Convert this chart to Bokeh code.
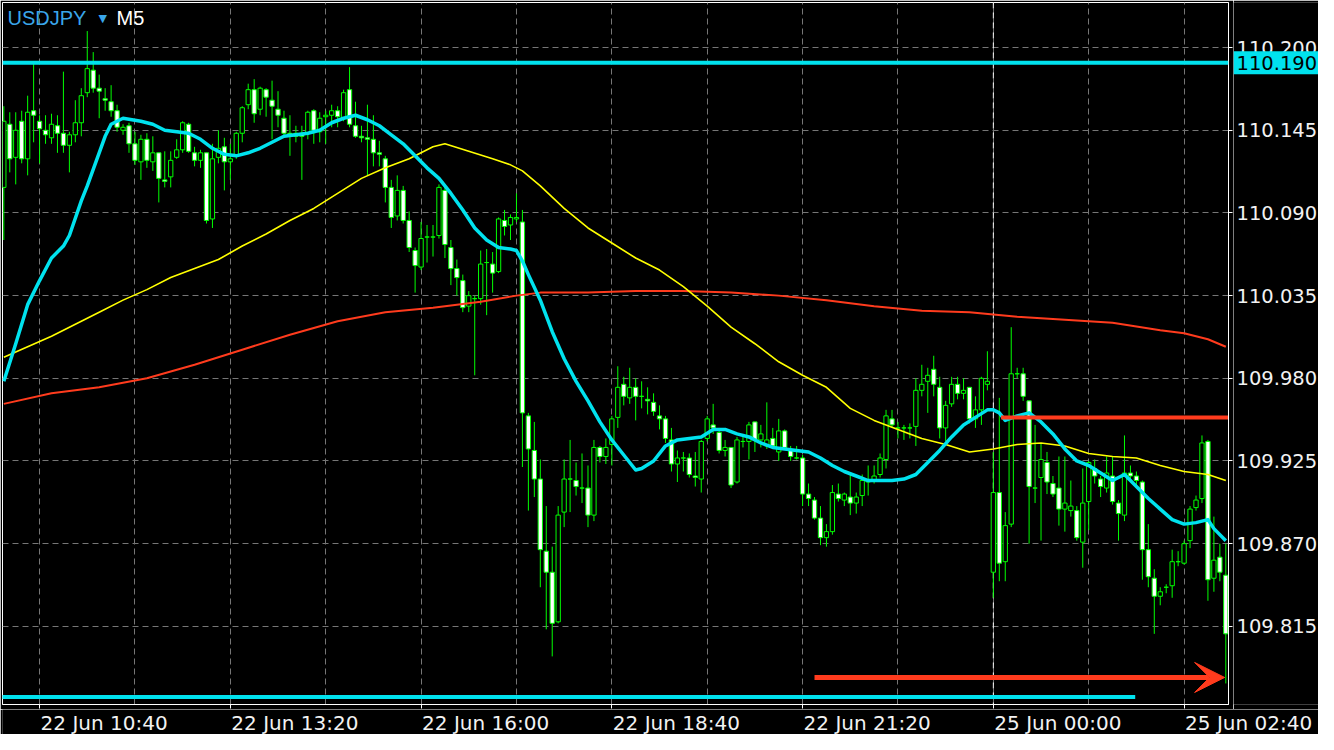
import numpy as np
from bokeh.plotting import figure
from bokeh.layouts import column, row
from bokeh.models import (Range1d, FixedTicker, Span, Label, Arrow, VeeHead, ColumnDataSource)
from bokeh.core.properties import value
from bokeh.embed import file_html
from bokeh.resources import INLINE

# ---------------- data ----------------
symbol = "USDJPY"
timeframe = "M5"
first_bar = -6          # bar index of the first visible candle (22 Jun 10:40 bar = 0)

opens = [110.107, 110.149, 110.127, 110.151, 110.126, 110.158,
         110.151, 110.145, 110.140, 110.148, 110.143, 110.135, 110.142, 110.150, 110.170, 110.185,
         110.173, 110.166, 110.164, 110.158, 110.145, 110.148, 110.136, 110.124, 110.139, 110.124,
         110.130, 110.112, 110.114, 110.127, 110.132, 110.149, 110.130, 110.125, 110.130, 110.086,
         110.127, 110.134, 110.124, 110.128, 110.143, 110.162, 110.172, 110.159, 110.172, 110.165,
         110.159, 110.153, 110.143, 110.143, 110.143, 110.143, 110.158, 110.144, 110.154, 110.155,
         110.158, 110.153, 110.172, 110.148, 110.141, 110.140, 110.139, 110.130, 110.126, 110.107,
         110.088, 110.105, 110.085, 110.065, 110.054, 110.074, 110.074, 110.075, 110.105, 110.067,
         110.053, 110.045, 110.028, 110.033, 110.033, 110.057, 110.056, 110.051, 110.085, 110.082,
         110.086, 110.084, 109.955, 109.932, 109.913, 109.865, 109.851, 109.818, 109.891, 109.913,
         109.912, 109.907, 109.907, 109.889, 109.934, 109.928, 109.936, 109.954, 109.976, 109.967,
         109.974, 109.968, 109.966, 109.964, 109.955, 109.953, 109.939, 109.923, 109.927, 109.927,
         109.915, 109.913, 109.940, 109.949, 109.944, 109.932, 109.934, 109.911, 109.938, 109.938,
         109.951, 109.939, 109.935, 109.940, 109.931, 109.945, 109.932, 109.927, 109.927, 109.903,
         109.899, 109.887, 109.874, 109.878, 109.903, 109.899, 109.901, 109.897, 109.902, 109.911,
         109.912, 109.916, 109.926, 109.953, 109.947, 109.947, 109.947, 109.948, 109.972, 109.978,
         109.986, 109.974, 109.947, 109.963, 109.976, 109.970, 109.974, 109.953, 109.959, 109.976,
         109.851, 109.904, 109.858, 109.883, 109.983, 109.983, 109.965, 109.907, 109.914, 109.924,
         109.910, 109.907, 109.893, 109.892, 109.892, 109.871, 109.898, 109.920, 109.913, 109.907,
         109.915, 109.897, 109.889, 109.917, 109.915, 109.911, 109.866, 109.847, 109.835, 109.841,
         109.842, 109.858, 109.857, 109.872, 109.894, 109.900, 109.938, 109.847, 109.861, 109.849]

highs = [110.161, 110.157, 110.157, 110.158, 110.168, 110.190,
         110.155, 110.155, 110.156, 110.155, 110.184, 110.144, 110.165, 110.173, 110.211, 110.197,
         110.182, 110.173, 110.175, 110.162, 110.149, 110.150, 110.144, 110.142, 110.143, 110.141,
         110.130, 110.131, 110.131, 110.139, 110.151, 110.150, 110.134, 110.132, 110.130, 110.136,
         110.145, 110.140, 110.136, 110.144, 110.161, 110.176, 110.179, 110.174, 110.173, 110.178,
         110.171, 110.158, 110.155, 110.148, 110.148, 110.158, 110.159, 110.157, 110.158, 110.162,
         110.161, 110.172, 110.187, 110.164, 110.148, 110.162, 110.155, 110.138, 110.128, 110.112,
         110.115, 110.108, 110.091, 110.067, 110.084, 110.082, 110.082, 110.109, 110.109, 110.072,
         110.059, 110.049, 110.038, 110.035, 110.065, 110.066, 110.064, 110.087, 110.092, 110.089,
         110.103, 110.092, 109.957, 109.951, 109.926, 109.895, 109.868, 109.895, 109.926, 109.939,
         109.924, 109.930, 109.922, 109.939, 109.935, 109.940, 109.955, 109.988, 109.981, 109.987,
         109.980, 109.978, 109.974, 109.970, 109.962, 109.955, 109.947, 109.932, 109.931, 109.930,
         109.931, 109.939, 109.955, 109.963, 109.947, 109.939, 109.934, 109.941, 109.943, 109.951,
         109.951, 109.949, 109.964, 109.947, 109.953, 109.946, 109.935, 109.935, 109.929, 109.910,
         109.901, 109.895, 109.883, 109.909, 109.910, 109.904, 109.916, 109.904, 109.916, 109.922,
         109.922, 109.930, 109.959, 109.959, 109.951, 109.949, 109.950, 109.980, 109.989, 109.987,
         109.995, 109.981, 109.965, 109.981, 109.981, 109.980, 109.974, 109.968, 109.981, 109.998,
         109.931, 109.967, 109.891, 110.014, 109.987, 109.987, 109.965, 109.949, 109.937, 109.931,
         109.915, 109.928, 109.928, 109.912, 109.895, 109.920, 109.925, 109.926, 109.915, 109.928,
         109.928, 109.899, 109.942, 109.922, 109.918, 109.912, 109.883, 109.853, 109.841, 109.843,
         109.866, 109.865, 109.872, 109.895, 109.902, 109.942, 109.939, 109.888, 109.870, 109.870]

lows = [110.072, 110.117, 110.109, 110.123, 110.115, 110.137,
        110.123, 110.136, 110.136, 110.130, 110.130, 110.117, 110.137, 110.141, 110.167, 110.170,
        110.153, 110.158, 110.154, 110.144, 110.142, 110.130, 110.122, 110.112, 110.120, 110.118,
        110.097, 110.107, 110.107, 110.126, 110.130, 110.130, 110.121, 110.120, 110.083, 110.080,
        110.123, 110.105, 110.112, 110.126, 110.137, 110.159, 110.150, 110.155, 110.154, 110.139,
        110.147, 110.141, 110.128, 110.137, 110.112, 110.139, 110.136, 110.137, 110.136, 110.147,
        110.147, 110.151, 110.147, 110.140, 110.137, 110.115, 110.121, 110.121, 110.097, 110.080,
        110.085, 110.083, 110.064, 110.037, 110.052, 110.057, 110.061, 110.073, 110.060, 110.042,
        110.035, 110.024, 110.024, 109.982, 110.029, 110.022, 110.037, 110.050, 110.075, 110.072,
        110.084, 109.921, 109.892, 109.901, 109.841, 109.813, 109.795, 109.817, 109.881, 109.891,
        109.902, 109.897, 109.881, 109.885, 109.924, 109.923, 109.922, 109.947, 109.962, 109.963,
        109.952, 109.960, 109.956, 109.955, 109.946, 109.937, 109.918, 109.911, 109.918, 109.914,
        109.908, 109.904, 109.938, 109.943, 109.930, 109.928, 109.907, 109.910, 109.934, 109.926,
        109.931, 109.934, 109.933, 109.933, 109.925, 109.933, 109.925, 109.926, 109.895, 109.895,
        109.886, 109.869, 109.868, 109.876, 109.898, 109.895, 109.889, 109.890, 109.895, 109.902,
        109.910, 109.914, 109.920, 109.947, 109.940, 109.939, 109.940, 109.935, 109.968, 109.957,
        109.968, 109.940, 109.938, 109.961, 109.966, 109.966, 109.950, 109.947, 109.949, 109.972,
        109.834, 109.845, 109.845, 109.881, 109.980, 109.965, 109.870, 109.897, 109.872, 109.903,
        109.901, 109.882, 109.878, 109.888, 109.872, 109.854, 109.879, 109.910, 109.901, 109.904,
        109.896, 109.872, 109.885, 109.912, 109.909, 109.846, 109.841, 109.810, 109.829, 109.837,
        109.834, 109.855, 109.856, 109.867, 109.892, 109.897, 109.832, 109.838, 109.845, 109.777]

closes = [110.151, 110.126, 110.145, 110.126, 110.157, 110.155,
          110.146, 110.142, 110.149, 110.143, 110.135, 110.142, 110.150, 110.168, 110.186, 110.173,
          110.171, 110.165, 110.158, 110.147, 110.147, 110.136, 110.125, 110.139, 110.125, 110.130,
          110.113, 110.111, 110.125, 110.132, 110.150, 110.131, 110.125, 110.130, 110.085, 110.126,
          110.133, 110.124, 110.126, 110.143, 110.160, 110.172, 110.156, 110.173, 110.167, 110.161,
          110.155, 110.143, 110.141, 110.141, 110.141, 110.157, 110.145, 110.153, 110.155, 110.158,
          110.154, 110.170, 110.149, 110.141, 110.140, 110.139, 110.130, 110.129, 110.107, 110.087,
          110.105, 110.085, 110.067, 110.055, 110.073, 110.074, 110.074, 110.107, 110.069, 110.053,
          110.047, 110.027, 110.035, 110.033, 110.056, 110.057, 110.050, 110.086, 110.081, 110.087,
          110.087, 109.957, 109.933, 109.913, 109.866, 109.851, 109.817, 109.889, 109.913, 109.913,
          109.908, 109.907, 109.889, 109.934, 109.928, 109.934, 109.953, 109.974, 109.968, 109.974,
          109.968, 109.968, 109.965, 109.958, 109.953, 109.940, 109.923, 109.927, 109.927, 109.916,
          109.914, 109.938, 109.953, 109.947, 109.932, 109.934, 109.909, 109.939, 109.938, 109.949,
          109.939, 109.943, 109.939, 109.935, 109.945, 109.934, 109.928, 109.927, 109.903, 109.900,
          109.887, 109.874, 109.878, 109.904, 109.900, 109.903, 109.897, 109.901, 109.912, 109.912,
          109.915, 109.927, 109.955, 109.949, 109.947, 109.947, 109.947, 109.972, 109.976, 109.982,
          109.976, 109.947, 109.962, 109.976, 109.970, 109.972, 109.953, 109.959, 109.980, 109.978,
          109.904, 109.857, 109.882, 109.983, 109.983, 109.968, 109.908, 109.907, 109.926, 109.911,
          109.903, 109.893, 109.897, 109.895, 109.874, 109.897, 109.924, 109.915, 109.908, 109.917,
          109.898, 109.890, 109.917, 109.915, 109.912, 109.866, 109.848, 109.835, 109.838, 109.841,
          109.858, 109.858, 109.870, 109.893, 109.899, 109.937, 109.846, 109.859, 109.851, 109.810]

x_tick_bars = [0, 32, 64, 96, 128, 160, 192]
x_tick_labels = ["22 Jun 10:40", "22 Jun 13:20", "22 Jun 16:00", "22 Jun 18:40",
                 "22 Jun 21:20", "25 Jun 00:00", "25 Jun 02:40"]
grid_bars = [0, 16, 32, 48, 64, 80, 96, 112, 128, 144, 160, 176, 192]
y_ticks = [109.815, 109.870, 109.925, 109.980, 110.035, 110.090, 110.145, 110.200]

fast_ma_bars = [-6, -4, -2, 0, 2, 4, 5, 7, 8, 10, 11, 12, 14, 17, 19, 21, 23, 25, 27, 29,
                31, 33, 35, 37, 39, 41, 43, 45, 47, 49, 51, 53, 55, 57, 59, 61, 63, 65, 67, 69,
                71, 73, 75, 77, 79, 80, 81, 82, 84, 86, 88, 90, 92, 94, 96, 98, 100, 101, 103, 105,
                107, 109, 111, 113, 115, 117, 119, 121, 123, 125, 127, 129, 131, 133, 135, 137, 139, 141, 143, 145,
                147, 149, 151, 153, 155, 157, 159, 160, 161, 162, 164, 166, 168, 170, 172, 174, 176, 178, 180, 182,
                184, 186, 188, 190, 192, 194, 196, 197, 199]
fast_ma = [109.978, 110.003, 110.029, 110.045, 110.060, 110.068, 110.075, 110.098, 110.108, 110.130,
           110.141, 110.149, 110.153, 110.151, 110.149, 110.145, 110.144, 110.143, 110.139, 110.133,
           110.129, 110.128, 110.130, 110.133, 110.137, 110.141, 110.142, 110.143, 110.145, 110.150,
           110.153, 110.155, 110.152, 110.148, 110.142, 110.136, 110.128, 110.120, 110.113, 110.103,
           110.092, 110.080, 110.072, 110.067, 110.066, 110.065, 110.058, 110.049, 110.032, 110.011,
           109.993, 109.978, 109.965, 109.951, 109.939, 109.929, 109.919, 109.920, 109.925, 109.935,
           109.939, 109.940, 109.941, 109.946, 109.946, 109.943, 109.941, 109.937, 109.934, 109.933,
           109.932, 109.931, 109.927, 109.922, 109.918, 109.915, 109.912, 109.912, 109.912, 109.913,
           109.916, 109.924, 109.932, 109.941, 109.949, 109.954, 109.959, 109.959, 109.957, 109.952,
           109.955, 109.957, 109.951, 109.943, 109.933, 109.925, 109.922, 109.917, 109.912, 109.916,
           109.908, 109.900, 109.893, 109.886, 109.883, 109.884, 109.886, 109.880, 109.872]

mid_ma_bars = [-6, -2, 2, 6, 10, 14, 18, 22, 26, 30, 34, 38, 42, 46, 50, 54, 58, 62, 66, 68,
               72, 76, 79, 81, 84, 88, 92, 96, 100, 104, 108, 112, 116, 120, 124, 128, 132, 136, 140, 144,
               148, 152, 156, 158, 160, 164, 168, 172, 176, 180, 184, 188, 192, 196, 199]
mid_ma = [109.994, 110.001, 110.008, 110.016, 110.024, 110.032, 110.039, 110.047, 110.053, 110.059,
          110.068, 110.076, 110.085, 110.093, 110.103, 110.113, 110.120, 110.126, 110.134, 110.136,
          110.131, 110.126, 110.122, 110.118, 110.108, 110.093, 110.080, 110.070, 110.060, 110.052,
          110.041, 110.028, 110.014, 110.003, 109.991, 109.982, 109.974, 109.960, 109.952, 109.946,
          109.940, 109.936, 109.931, 109.932, 109.933, 109.936, 109.937, 109.935, 109.930, 109.928,
          109.927, 109.922, 109.918, 109.916, 109.912]

slow_ma_bars = [-6, 2, 10, 18, 26, 34, 42, 50, 58, 66, 74, 80, 84, 92, 100, 108, 116, 124, 132, 140,
                148, 156, 164, 172, 180, 188, 192, 196, 199]
slow_ma = [109.963, 109.970, 109.974, 109.980, 109.989, 109.999, 110.009, 110.018, 110.024, 110.027,
           110.031, 110.035, 110.037, 110.037, 110.038, 110.038, 110.037, 110.035, 110.032, 110.028,
           110.025, 110.024, 110.021, 110.019, 110.017, 110.012, 110.010, 110.006, 110.001]

resistance_level = 110.190
support_level = 109.768
support_end_bar = 183.8
red_level = 109.954
red_level_start_bar = 161.3
arrow_level = 109.781
arrow_start_bar = 130.0
arrow_end_bar = 198.8
day_separator_bar = 160

# ---------------- style / layout ----------------
CYAN = "#00e2ee"
RED = "#ff3b1d"
YELLOW = "#ffff00"
GREEN = "#00ff00"
GRID = "#767676"
TEXT = "#f2f2f2"
TITLE_BLUE = "#3aa6ea"
AXIS_FONT = "DejaVu Sans"

TOTAL_W, TOTAL_H = 1318, 734
RIGHT_W = 85          # price-label strip
BOTTOM_H = 25         # time-label strip
BL, BT, BR, BB = 2, 2, 5, 5   # main figure borders
MAIN_W = TOTAL_W - RIGHT_W
MAIN_H = TOTAL_H - BOTTOM_H
FRAME_W = MAIN_W - BL - BR
FRAME_H = MAIN_H - BT - BB

x0, x1 = -6.22, 199.45
y0, y1 = 109.763, 110.230
px_per_bar = FRAME_W / (x1 - x0)
price_per_px = (y1 - y0) / FRAME_H

xr = Range1d(x0, x1)
yr = Range1d(y0, y1)

p = figure(width=MAIN_W, height=MAIN_H, output_backend="svg", toolbar_location=None,
           x_range=xr, y_range=yr, x_axis_location="below", y_axis_location="right",
           background_fill_color="black", border_fill_color="black",
           outline_line_color="white", outline_line_width=1,
           min_border_left=BL, min_border_top=BT, min_border_right=BR, min_border_bottom=BB)

# axes: tick marks only (labels are drawn in the side strips)
p.xaxis.ticker = FixedTicker(ticks=x_tick_bars)
p.yaxis.ticker = FixedTicker(ticks=y_ticks)
p.xaxis.major_label_overrides = {b: "" for b in x_tick_bars}
p.yaxis.major_label_overrides = {t: "" for t in y_ticks}
for ax in (p.xaxis, p.yaxis):
    ax.major_label_text_font_size = "0px"
    ax.major_label_standoff = 0
    ax.major_tick_out = 4
    ax.major_tick_in = 0
    ax.minor_tick_line_color = None
    ax.axis_line_color = "white"
    ax.major_tick_line_color = "white"

# grids
p.xgrid.ticker = FixedTicker(ticks=grid_bars)
p.ygrid.ticker = FixedTicker(ticks=y_ticks)
for g in (p.xgrid, p.ygrid):
    g.grid_line_color = GRID
    g.grid_line_dash = "6 4"
    g.grid_line_width = 1

# day separator
p.add_layout(Span(location=day_separator_bar, dimension="height", line_color="white",
                  line_dash="6 4", line_width=1, level="underlay"))

# candles
bars = np.arange(first_bar, first_bar + len(opens))
o = np.array(opens); c = np.array(closes)
src = ColumnDataSource(dict(
    x=bars, h=highs, l=lows,
    top=np.maximum(o, c), bottom=np.minimum(o, c),
    fill=["white" if cc < oo else "black" for oo, cc in zip(opens, closes)]))
p.segment(x0="x", y0="l", x1="x", y1="h", source=src, line_color=GREEN, line_width=1)
p.vbar(x="x", width=0.72, top="top", bottom="bottom", source=src,
       fill_color="fill", line_color=GREEN, line_width=1)

# moving averages
p.line(slow_ma_bars, slow_ma, line_color=RED, line_width=2)
p.line(mid_ma_bars, mid_ma, line_color=YELLOW, line_width=1.6)
p.line(fast_ma_bars, fast_ma, line_color=CYAN, line_width=3.5, line_join="round")

# horizontal objects
p.add_layout(Span(location=resistance_level, dimension="width", line_color=CYAN, line_width=4))
p.segment(x0=[x0 - 1], y0=[support_level], x1=[support_end_bar], y1=[support_level],
          line_color=CYAN, line_width=4)
p.segment(x0=[red_level_start_bar], y0=[red_level], x1=[x1 + 1], y1=[red_level],
          line_color=RED, line_width=4)
p.add_layout(Arrow(end=VeeHead(size=30, fill_color=RED, line_color=RED, line_width=1),
                   x_start=arrow_start_bar, y_start=arrow_level,
                   x_end=arrow_end_bar, y_end=arrow_level,
                   line_color=RED, line_width=5))

# title
p.add_layout(Label(x=x0, y=y1, x_offset=5, y_offset=-15, text=symbol,
                   text_align="left", text_baseline="middle", text_color=TITLE_BLUE,
                   text_font="Liberation Sans", text_font_size="20px"))
p.add_layout(Label(x=x0, y=y1, x_offset=96, y_offset=-16, text="\u25BC",
                   text_align="left", text_baseline="middle", text_color=TITLE_BLUE,
                   text_font="DejaVu Sans", text_font_size="11px"))
p.add_layout(Label(x=x0, y=y1, x_offset=114, y_offset=-15, text=timeframe,
                   text_align="left", text_baseline="middle", text_color="white",
                   text_font="Liberation Sans", text_font_size="20px"))

# ---------------- right strip: price labels + price tag ----------------
rf = figure(width=RIGHT_W, height=MAIN_H, output_backend="svg", toolbar_location=None,
            x_range=Range1d(0, RIGHT_W), y_range=yr,
            x_axis_location=None, y_axis_location=None,
            background_fill_color="black", border_fill_color="black", outline_line_color=None,
            min_border_left=0, min_border_right=0, min_border_top=BT, min_border_bottom=BB)
rf.grid.visible = False
rf.text(x=[3] * len(y_ticks), y=y_ticks, text=[f"{t:.3f}" for t in y_ticks],
        text_align="left", text_baseline="middle", text_color=TEXT,
        text_font=value(AXIS_FONT), text_font_size="19.5px")
tag_half = 11.5 * price_per_px
rf.quad(left=[0], right=[RIGHT_W], bottom=[resistance_level - tag_half],
        top=[resistance_level + tag_half], fill_color=CYAN, line_color=None)
rf.text(x=[3], y=[resistance_level], text=[f"{resistance_level:.3f}"],
        text_align="left", text_baseline="middle", text_color="black",
        text_font=value(AXIS_FONT), text_font_size="19.5px")

# ---------------- bottom strip: time labels ----------------
bf = figure(width=TOTAL_W, height=BOTTOM_H, output_backend="svg", toolbar_location=None,
            x_range=Range1d(x0, x0 + (TOTAL_W - BL) / px_per_bar), y_range=Range1d(0, BOTTOM_H),
            x_axis_location=None, y_axis_location=None,
            background_fill_color="black", border_fill_color="black", outline_line_color=None,
            min_border_left=BL, min_border_right=0, min_border_top=0, min_border_bottom=0)
bf.grid.visible = False
bf.text(x=x_tick_bars, y=[BOTTOM_H - 1] * len(x_tick_bars), text=x_tick_labels,
        x_offset=1, text_align="left", text_baseline="top", text_color=TEXT,
        text_font=value(AXIS_FONT), text_font_size="20px")

layout = column(row(p, rf, spacing=0), bf, spacing=0)

html = file_html(layout, INLINE, title="USDJPY M5")
open("out.html", "w").write(html)
